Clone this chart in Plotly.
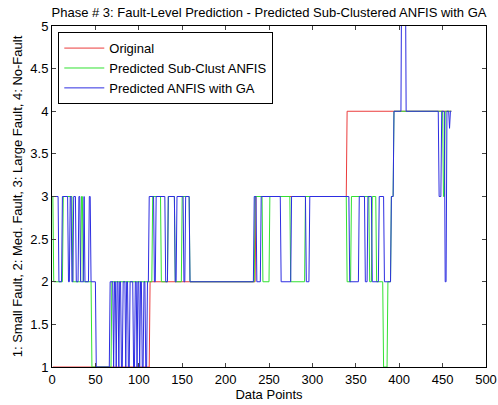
import numpy as np
import plotly.graph_objects as go

# Segment change points: (start data point, level); each level holds until the next start
N_POINTS = 460

orig_starts = [1, 113, 235, 340]
orig_levels = [1, 2, 3, 4]

green_starts = [1, 2, 13, 24, 34, 36, 46, 69, 116, 126, 134, 142, 150, 159,
                234, 243, 251, 275, 292, 340, 345, 366, 369, 374, 382, 387, 391, 394, 451, 453]
green_levels = [3, 2, 3, 2, 3, 2, 1, 2, 3, 2, 3, 2, 3, 2,
                3, 2, 3, 2, 3, 2, 3, 2, 3, 2, 1, 2, 3, 4, 3, 4]

blue_starts = [1, 8, 12, 19, 21, 23, 25, 28, 31, 33, 37, 38, 43, 45, 51,
               67, 71, 72, 74, 75, 77, 78, 80, 82, 85, 86, 88, 90, 94, 96, 98, 99, 101, 102, 104, 106, 108, 110, 112,
               118, 120, 131, 134, 142, 144, 152, 154, 159,
               233, 236, 241, 264, 276, 293, 297,
               343, 354, 361, 364, 369, 377, 383, 391, 394, 403, 408, 446, 449, 453, 455, 458, 459]
blue_levels = [3, 2, 3, 2, 3, 2, 3, 2, 3, 2, 3, 2, 3, 2, 1,
               2, 1, 2, 1, 2, 1, 2, 1, 2, 1, 2, 1, 2, 1, 2, 1, 2, 1, 2, 1, 2, 1, 2, 3,
               2, 3, 2, 3, 2, 3, 2, 3, 2,
               3, 2, 3, 2, 3, 2, 3,
               2, 3, 2, 3, 2, 3, 2, 3, 4, 6, 4, 3, 4, 2, 4, 3.8, 4]

x_ticks = [0, 50, 100, 150, 200, 250, 300, 350, 400, 450, 500]
y_ticks = [1, 1.5, 2, 2.5, 3, 3.5, 4, 4.5, 5]
y_tick_text = ["1", "1.5", "2", "2.5", "3", "3.5", "4", "4.5", "5"]


def expand(starts, levels, n):
    ends = starts[1:] + [n + 1]
    vals = []
    for s, e, v in zip(starts, ends, levels):
        vals.extend([v] * (e - s))
    return np.arange(1, n + 1), np.array(vals, dtype=float)


xo, yo = expand(orig_starts, orig_levels, N_POINTS)
xg, yg = expand(green_starts, green_levels, N_POINTS)
xb, yb = expand(blue_starts, blue_levels, N_POINTS)

FONT = "Liberation Sans, Arial, sans-serif"

fig = go.Figure()
fig.add_trace(go.Scatter(x=xo, y=yo, mode="lines", name="Original",
                         line=dict(color="rgb(235,60,60)", width=1)))
fig.add_trace(go.Scatter(x=xg, y=yg, mode="lines", name="Predicted Sub-Clust ANFIS",
                         line=dict(color="rgb(50,225,50)", width=1)))
fig.add_trace(go.Scatter(x=xb, y=yb, mode="lines", name="Predicted ANFIS with GA",
                         line=dict(color="rgb(45,45,225)", width=1)))

fig.update_layout(
    width=498, height=405,
    margin=dict(l=52, r=12, t=26, b=38, autoexpand=False),
    paper_bgcolor="white", plot_bgcolor="white",
    font=dict(family=FONT, size=13, color="black"),
    title=dict(text="Phase # 3: Fault-Level Prediction - Predicted Sub-Clustered ANFIS with GA",
               x=0.5, xref="paper", xanchor="center",
               y=1 - 12 / 405, yref="container", yanchor="middle",
               font=dict(family=FONT, size=13, color="black")),
    showlegend=True,
    legend=dict(x=0.0145, y=0.982, xanchor="left", yanchor="top",
                bgcolor="white", bordercolor="black", borderwidth=1,
                font=dict(family=FONT, size=13, color="black"),
                tracegroupgap=0, itemwidth=40),
)
fig.update_xaxes(range=[0, 500], tickvals=x_ticks, ticks="inside", ticklen=4,
                 showline=True, linecolor="black", linewidth=1, mirror="ticks",
                 showgrid=False, zeroline=False, tickfont=dict(size=13), automargin=False,
                 title=dict(text="Data Points", font=dict(size=13), standoff=2))
fig.update_yaxes(range=[1, 5], tickvals=y_ticks, ticktext=y_tick_text, ticks="inside", ticklen=4,
                 showline=True, linecolor="black", linewidth=1, mirror="ticks",
                 showgrid=False, zeroline=False, tickfont=dict(size=13), automargin=False,
                 title=dict(text="1: Small Fault, 2: Med. Fault, 3: Large Fault, 4: No-Fault",
                            font=dict(size=13), standoff=4))

fig.write_html("out.html")
